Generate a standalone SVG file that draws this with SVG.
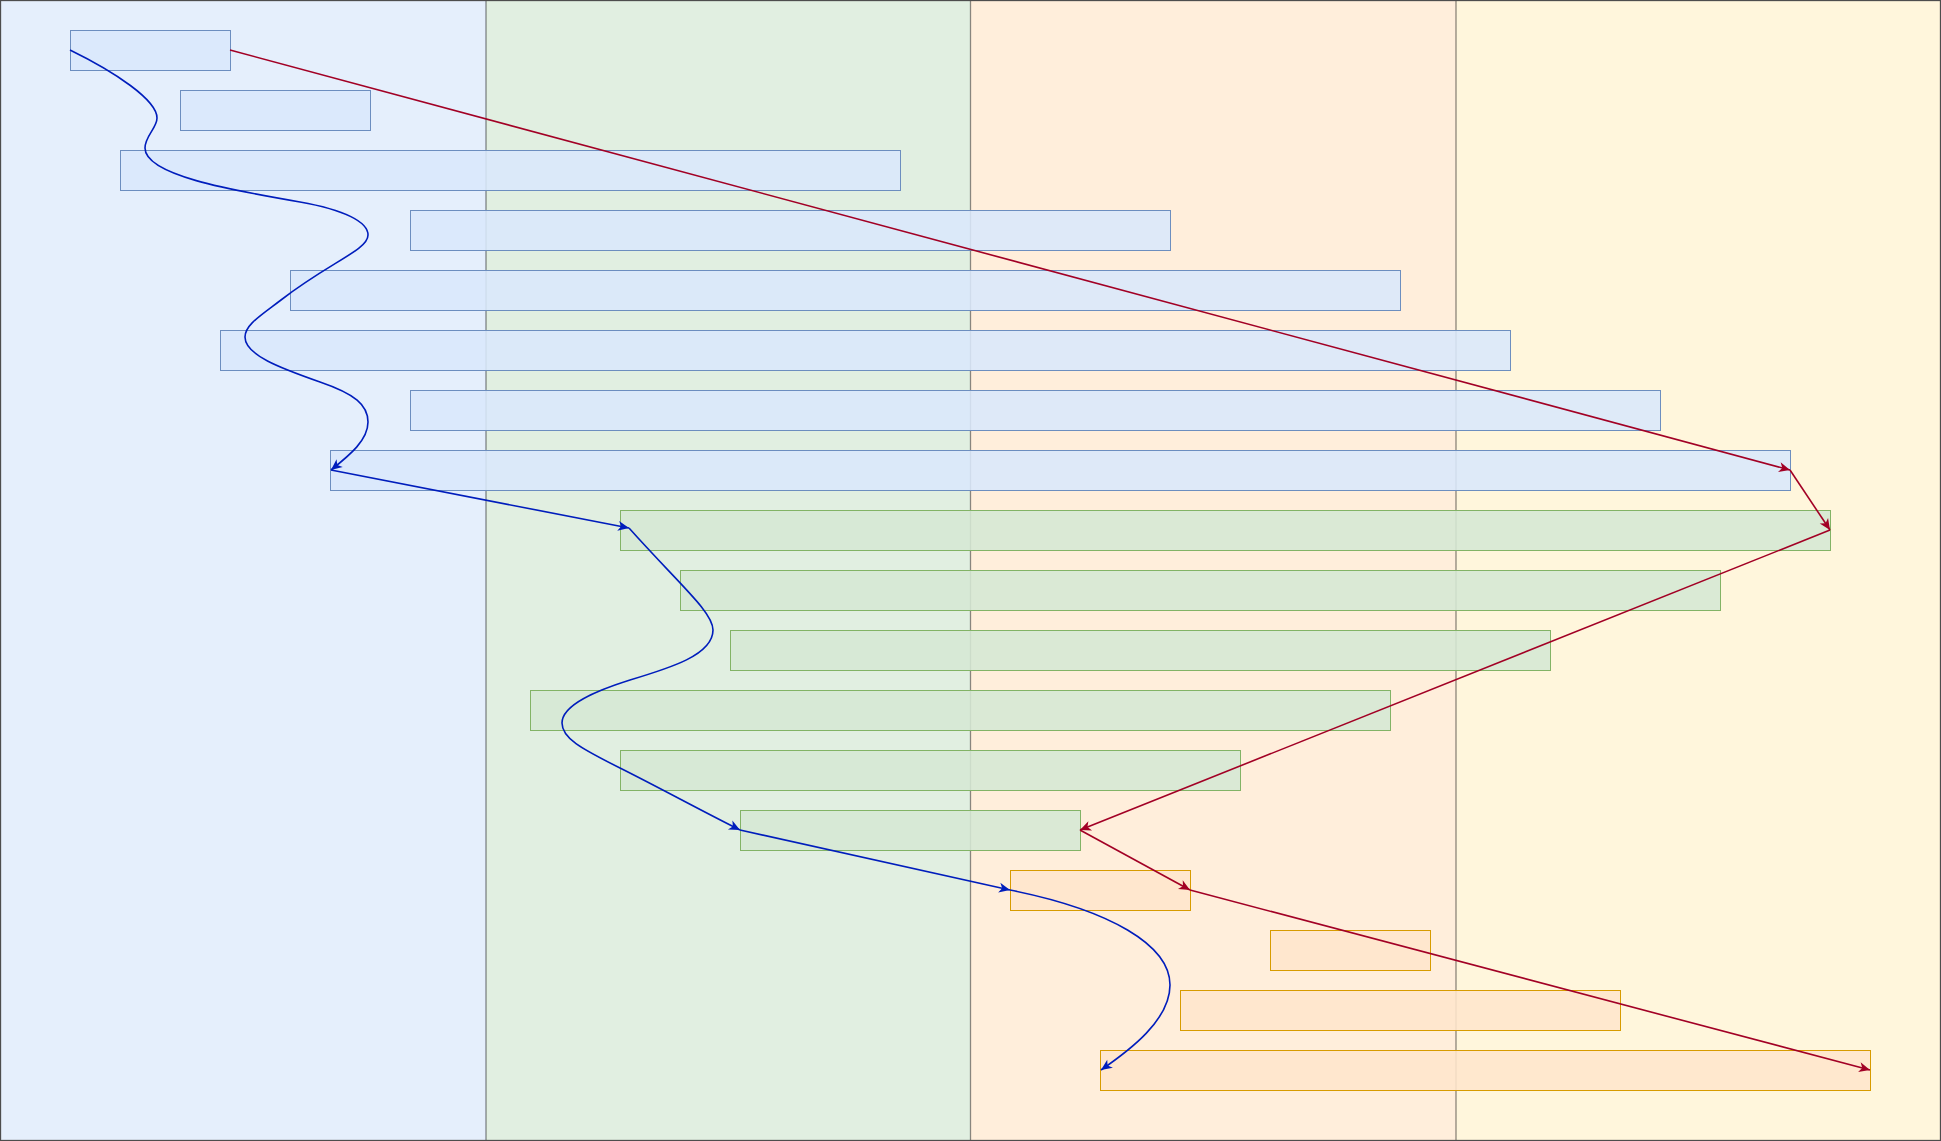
<svg xmlns="http://www.w3.org/2000/svg" width="1941" height="1141" viewBox="0 0 1941 1141">
<defs>
<style>
.lane{stroke:#000;stroke-opacity:0.45;stroke-width:1.3}
.b{fill:#dae8fc;fill-opacity:0.88;stroke:#6c8ebf;stroke-width:1}
.g{fill:#d5e8d4;fill-opacity:0.88;stroke:#82b366;stroke-width:1}
.o{fill:#ffe6cc;fill-opacity:0.88;stroke:#d79b00;stroke-width:1}
.eb{fill:none;stroke:#001DBC;stroke-width:1.6;marker-end:url(#ab)}
.er{fill:none;stroke:#A20025;stroke-width:1.6;marker-end:url(#ar)}
</style>
<marker id="ab" markerUnits="userSpaceOnUse" markerWidth="14" markerHeight="12" refX="11" refY="5" orient="auto" overflow="visible">
<path d="M0,0 L11,5 L0,10 L3,5 Z" fill="#001DBC"/>
</marker>
<marker id="ar" markerUnits="userSpaceOnUse" markerWidth="14" markerHeight="12" refX="11" refY="5" orient="auto" overflow="visible">
<path d="M0,0 L11,5 L0,10 L3,5 Z" fill="#A20025"/>
</marker>
</defs>
<g id="lanes">
<rect x="0" y="0" width="486" height="1141" fill="#e5effc"/>
<rect x="486" y="0" width="484.5" height="1141" fill="#e1efe1"/>
<rect x="970.5" y="0" width="485.5" height="1141" fill="#ffeedb"/>
<rect x="1456" y="0" width="485" height="1141" fill="#fff6dc"/>
<line class="lane" x1="486" y1="0" x2="486" y2="1140"/>
<line class="lane" x1="970.5" y1="0" x2="970.5" y2="1140"/>
<line class="lane" x1="1456" y1="0" x2="1456" y2="1140"/>
<rect x="0.5" y="0.5" width="1940" height="1140" fill="none" stroke="#4d4d4d" stroke-width="1.3"/>
</g>
<g id="node1"><rect class="b" x="70.5" y="30.5" width="160" height="40"/></g>
<g id="node2"><rect class="b" x="180.5" y="90.5" width="190" height="40"/></g>
<g id="node3"><rect class="b" x="120.5" y="150.5" width="780" height="40"/></g>
<g id="node4"><rect class="b" x="410.5" y="210.5" width="760" height="40"/></g>
<g id="node5"><rect class="b" x="290.5" y="270.5" width="1110" height="40"/></g>
<g id="node6"><rect class="b" x="220.5" y="330.5" width="1290" height="40"/></g>
<g id="node7"><rect class="b" x="410.5" y="390.5" width="1250" height="40"/></g>
<g id="node8"><rect class="b" x="330.5" y="450.5" width="1460" height="40"/></g>
<g id="node9"><rect class="g" x="620.5" y="510.5" width="1210" height="40"/></g>
<g id="node10"><rect class="g" x="680.5" y="570.5" width="1040" height="40"/></g>
<g id="node11"><rect class="g" x="730.5" y="630.5" width="820" height="40"/></g>
<g id="node12"><rect class="g" x="530.5" y="690.5" width="860" height="40"/></g>
<g id="node13"><rect class="g" x="620.5" y="750.5" width="620" height="40"/></g>
<g id="node14"><rect class="g" x="740.5" y="810.5" width="340" height="40"/></g>
<g id="node15"><rect class="o" x="1010.5" y="870.5" width="180" height="40"/></g>
<g id="node16"><rect class="o" x="1270.5" y="930.5" width="160" height="40"/></g>
<g id="node17"><rect class="o" x="1180.5" y="990.5" width="440" height="40"/></g>
<g id="node18"><rect class="o" x="1100.5" y="1050.5" width="770" height="40"/></g>
<g id="connectors">
<path class="eb" d="M70,50 C115,72 157,100 157,118 C157,128 145,136 145,148 C145,175 230,190 300,202 C345,210 368,222 368,235 C368,250 330,262 281,300 C260,316 245,325 245,337 C245,355 280,368 320,382 C355,394 368,405 368,422 C368,440 350,455 331,470"/>
<path class="eb" d="M331,470 L629,528"/>
<path class="eb" d="M629,528 C680,585 713,612 713,630 C713,655 670,668 630,680 C595,691 562,705 562,723 C562,738 580,748 620,768 C660,788 700,810 740,830"/>
<path class="eb" d="M740,830 L1010,890"/>
<path class="eb" d="M1010,890 C1110,910 1170,945 1170,985 C1170,1020 1130,1050 1101,1070"/>
<path class="er" d="M230,50 L1790,470"/>
<path class="er" d="M1790,470 L1830,530"/>
<path class="er" d="M1830,530 L1080,830"/>
<path class="er" d="M1080,830 L1190,890"/>
<path class="er" d="M1190,890 L1870,1070"/>
</g>
</svg>
